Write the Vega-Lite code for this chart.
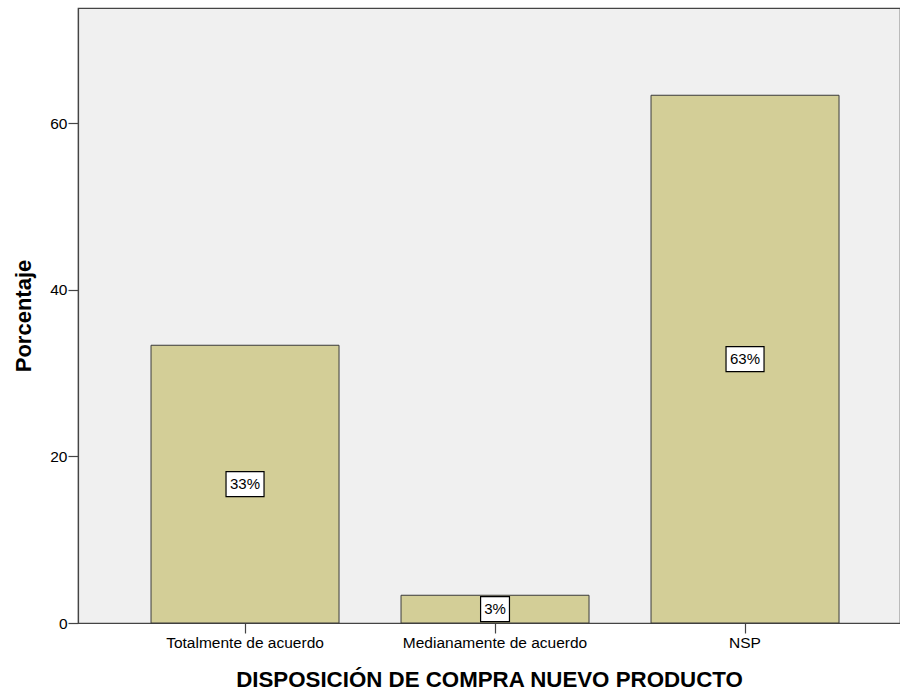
{
  "$schema": "https://vega.github.io/schema/vega-lite/v6.json",
  "width": 822,
  "height": 615,
  "autosize": {"type": "none"},
  "padding": {"left": 78, "top": 8, "right": 0, "bottom": 68},
  "background": "white",
  "config": {
    "font": "Liberation Sans",
    "view": {"fill": "#f0f0f0", "stroke": "#444444", "strokeWidth": 1.2}
  },
  "data": {
    "values": [
      {"cat": "Totalmente de acuerdo", "pct": 33.33, "label": "33%"},
      {"cat": "Medianamente de acuerdo", "pct": 3.33, "label": "3%"},
      {"cat": "NSP", "pct": 63.33, "label": "63%"}
    ]
  },
  "encoding": {
    "x": {
      "field": "cat",
      "type": "nominal",
      "sort": null,
      "scale": {"paddingInner": 0.248, "paddingOuter": 0.268, "align": 0.545},
      "axis": {
        "title": "DISPOSICIÓN DE COMPRA NUEVO PRODUCTO",
        "titleFontSize": 22.3,
        "titleFontWeight": "bold",
        "titleColor": "black",
        "titlePadding": 18,
        "labelAngle": 0,
        "labelFontSize": 15.5,
        "labelColor": "black",
        "labelPadding": 2,
        "labelLimit": 0,
        "domainColor": "#444444",
        "domainWidth": 1.2,
        "tickColor": "#444444",
        "tickSize": 10,
        "tickWidth": 1.2
      }
    }
  },
  "layer": [
    {
      "mark": {"type": "bar", "fill": "#d3ce97", "stroke": "#3a3a3a", "strokeWidth": 1},
      "encoding": {
        "y": {
          "field": "pct",
          "type": "quantitative",
          "scale": {"domain": [0, 73.8], "nice": false},
          "axis": {
            "values": [0, 20, 40, 60],
            "grid": false,
            "title": "Porcentaje",
            "titleFontSize": 22,
            "titleFontWeight": "bold",
            "titleColor": "black",
            "titlePadding": 14,
            "labelFontSize": 15.5,
            "labelColor": "black",
            "labelPadding": 1,
            "domainColor": "#444444",
            "domainWidth": 1.2,
            "tickColor": "#444444",
            "tickSize": 10,
            "tickWidth": 1.2
          }
        }
      }
    },
    {
      "transform": [{"calculate": "datum.pct / 2", "as": "mid"}],
      "mark": {"type": "point", "filled": true, "fill": "white", "stroke": "black", "strokeWidth": 1.2, "opacity": 1, "size": 1444},
      "encoding": {
        "y": {"field": "mid", "type": "quantitative"},
        "shape": {
          "field": "label",
          "type": "nominal",
          "legend": null,
          "scale": {
            "domain": ["33%", "3%", "63%"],
            "range": ["M-1,-0.66H1V0.66H-1Z", "M-0.76,-0.66H0.76V0.66H-0.76Z", "M-1,-0.66H1V0.66H-1Z"]
          }
        }
      }
    },
    {
      "transform": [{"calculate": "datum.pct / 2", "as": "mid"}],
      "mark": {"type": "text", "fontSize": 15, "color": "black", "align": "center", "baseline": "middle"},
      "encoding": {
        "y": {"field": "mid", "type": "quantitative"},
        "text": {"field": "label"}
      }
    }
  ]
}
